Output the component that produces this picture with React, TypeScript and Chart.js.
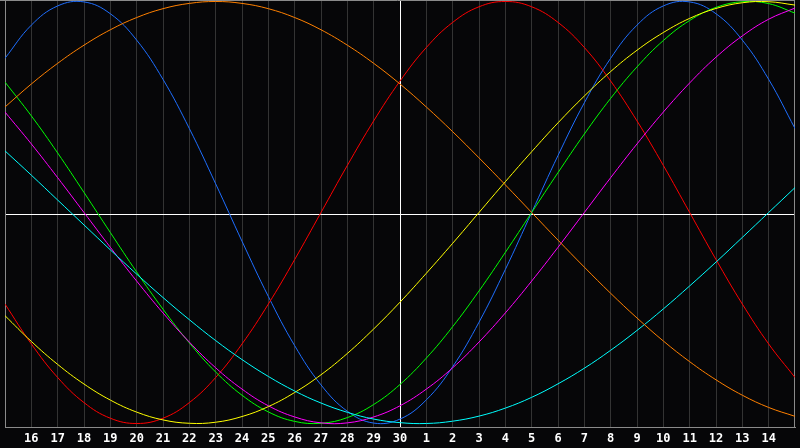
import { useEffect, useRef } from "react";
import { Chart, registerables } from "chart.js";

Chart.register(...registerables);

// Day labels for grid positions 1..29 (position 15 = today, "30")
const dayLabels = [
  "16", "17", "18", "19", "20", "21", "22", "23", "24", "25", "26", "27", "28", "29", "30",
  "1", "2", "3", "4", "5", "6", "7", "8", "9", "10", "11", "12", "13", "14",
];

// Values read at each day position 0..30 (range -1..1)
const physicalBlue = [
  0.731, 0.888, 0.979, 0.998, 0.942, 0.817, 0.631, 0.398, 0.136, -0.136, -0.398,
  -0.631, -0.817, -0.942, -0.998, -0.979, -0.888, -0.731, -0.52, -0.27, 0.0,
  0.27, 0.52, 0.731, 0.888, 0.979, 0.998, 0.942, 0.817, 0.631, 0.398,
];
const emotionalRed = [
  -0.434, -0.623, -0.782, -0.901, -0.975, -1.0, -0.975, -0.901, -0.782, -0.623, -0.434,
  -0.223, 0.0, 0.223, 0.434, 0.623, 0.782, 0.901, 0.975, 1.0, 0.975,
  0.901, 0.782, 0.623, 0.434, 0.223, 0.0, -0.223, -0.434, -0.623, -0.782,
];
const intellectualGreen = [
  0.618, 0.458, 0.282, 0.095, -0.095, -0.282, -0.458, -0.618, -0.756, -0.866, -0.945,
  -0.99, -0.999, -0.972, -0.91, -0.815, -0.69, -0.541, -0.372, -0.189, 0.0,
  0.189, 0.372, 0.541, 0.69, 0.815, 0.91, 0.972, 0.999, 0.99, 0.945,
];
const intuitiveMagenta = [
  0.476, 0.325, 0.165, 0.0, -0.165, -0.325, -0.476, -0.614, -0.736, -0.837, -0.916,
  -0.969, -0.997, -0.997, -0.969, -0.916, -0.837, -0.736, -0.614, -0.476, -0.325,
  -0.165, 0.0, 0.165, 0.325, 0.476, 0.614, 0.736, 0.837, 0.916, 0.969,
];
const aestheticYellow = [
  -0.489, -0.611, -0.72, -0.813, -0.889, -0.946, -0.983, -0.999, -0.994, -0.967, -0.92,
  -0.853, -0.769, -0.668, -0.552, -0.425, -0.288, -0.146, 0.0, 0.146, 0.288,
  0.425, 0.552, 0.668, 0.769, 0.853, 0.92, 0.967, 0.994, 0.999, 0.983,
];
const awarenessOrange = [
  0.5, 0.609, 0.707, 0.793, 0.866, 0.924, 0.966, 0.991, 1.0, 0.991, 0.966,
  0.924, 0.866, 0.793, 0.707, 0.609, 0.5, 0.383, 0.259, 0.131, 0.0,
  -0.131, -0.259, -0.383, -0.5, -0.609, -0.707, -0.793, -0.866, -0.924, -0.966,
];
const spiritualCyan = [
  0.292, 0.177, 0.059, -0.059, -0.177, -0.292, -0.403, -0.508, -0.607, -0.697, -0.777,
  -0.846, -0.903, -0.947, -0.979, -0.996, -1.0, -0.989, -0.965, -0.927, -0.876,
  -0.812, -0.738, -0.653, -0.559, -0.457, -0.348, -0.235, -0.118, 0.0, 0.118,
];

const seriesList = [
  { name: "Awareness", values: awarenessOrange, color: "#ff8000" },
  { name: "Spiritual", values: spiritualCyan, color: "#00ffff" },
  { name: "Aesthetic", values: aestheticYellow, color: "#ffff00" },
  { name: "Intuitive", values: intuitiveMagenta, color: "#ff00ff" },
  { name: "Intellectual", values: intellectualGreen, color: "#00ff00" },
  { name: "Emotional", values: emotionalRed, color: "#ff0000" },
  { name: "Physical", values: physicalBlue, color: "#1e6eff" },
];

const BG = "#060608";
const FRAME = "#8a8a8a";
const GRID = "#333333";

const framePlugin = {
  id: "frame",
  beforeDraw(chart: any) {
    const { ctx, width, height } = chart;
    ctx.save();
    ctx.fillStyle = BG;
    ctx.fillRect(0, 0, width, height);
    ctx.restore();
  },
  beforeDatasetsDraw(chart: any) {
    const { ctx, chartArea } = chart;
    ctx.save();
    ctx.strokeStyle = FRAME;
    ctx.lineWidth = 1;
    ctx.beginPath();
    ctx.moveTo(0, chartArea.top + 0.5);
    ctx.lineTo(chartArea.right, chartArea.top + 0.5);
    ctx.moveTo(chartArea.left + 0.5, chartArea.top);
    ctx.lineTo(chartArea.left + 0.5, chartArea.bottom);
    ctx.moveTo(chartArea.right - 0.5, chartArea.top);
    ctx.lineTo(chartArea.right - 0.5, chartArea.bottom);
    ctx.stroke();
    ctx.restore();
  },
};

export default function App() {
  const canvasRef = useRef<HTMLCanvasElement>(null);

  useEffect(() => {
    if (!canvasRef.current) return;
    const chart = new Chart(canvasRef.current, {
      type: "line",
      data: {
        datasets: seriesList.map((s) => ({
          label: s.name,
          data: s.values.map((v, i) => ({ x: i, y: v })),
          borderColor: s.color,
          backgroundColor: s.color,
          borderWidth: 1,
          pointRadius: 0,
          tension: 0.4,
          fill: false,
        })),
      },
      options: {
        responsive: false,
        animation: false,
        layout: { padding: 0 },
        plugins: {
          legend: { display: false },
          tooltip: { enabled: false },
        },
        scales: {
          x: {
            type: "linear",
            min: 0,
            max: 30,
            afterFit: (scale: any) => {
              scale.height = 21;
            },
            ticks: {
              stepSize: 1,
              autoSkip: false,
              maxRotation: 0,
              minRotation: 0,
              padding: 5,
              color: "#ffffff",
              font: { family: "'DejaVu Sans Mono', monospace", size: 12, weight: "bold" },
              callback: (value: any) => {
                const i = Math.round(Number(value));
                return i >= 1 && i <= 29 ? dayLabels[i - 1] : "";
              },
            },
            grid: {
              drawTicks: false,
              color: (ctx: any) => {
                const v = ctx.tick ? ctx.tick.value : -1;
                if (v === 15) return "#ffffff";
                if (v === 0 || v === 30) return "rgba(0,0,0,0)";
                return GRID;
              },
            },
            border: { display: true, color: FRAME, width: 1 },
          },
          y: {
            type: "linear",
            min: -1.0166,
            max: 1.0071,
            afterFit: (scale: any) => {
              scale.width = 0;
            },
            afterBuildTicks: (scale: any) => {
              scale.ticks = [{ value: -0.009 }];
            },
            ticks: { display: false },
            grid: { drawTicks: false, color: "#ffffff" },
            border: { display: false },
          },
        },
      },
      plugins: [framePlugin],
    });
    return () => chart.destroy();
  }, []);

  return (
    <canvas
      ref={canvasRef}
      width={800}
      height={448}
      style={{ position: "fixed", top: 0, left: 0, width: 800, height: 448, display: "block" }}
    />
  );
}
